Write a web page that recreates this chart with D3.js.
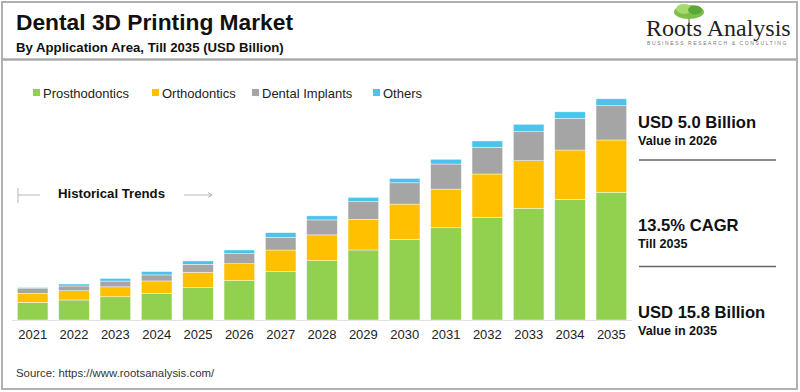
<!DOCTYPE html>
<html>
<head>
<meta charset="utf-8">
<script src="https://cdn.jsdelivr.net/npm/d3@7"></script>
<style>
  body { margin: 0; background: #fff; }
  text { font-family: "Liberation Sans", Arial, sans-serif; }
</style>
</head>
<body>
<div id="chart"></div>
<script>
const years = ["2021", "2022", "2023", "2024", "2025", "2026", "2027", "2028",
  "2029", "2030", "2031", "2032", "2033", "2034", "2035"];
const groups = ["Prosthodontics", "Orthodontics", "Dental Implants", "Others"];

const prosthodontics = [1.26, 1.43, 1.66, 1.91, 2.31, 2.82, 3.45, 4.24, 5.0, 5.76, 6.59, 7.34, 7.98, 8.62, 9.12];
const orthodontics = [0.64, 0.66, 0.71, 0.88, 1.1, 1.2, 1.55, 1.84, 2.19, 2.52, 2.76, 3.09, 3.4, 3.52, 3.74];
const dentalImplants = [0.38, 0.34, 0.41, 0.43, 0.57, 0.72, 0.91, 1.07, 1.26, 1.52, 1.79, 1.91, 2.07, 2.26, 2.45];
const others = [0.05, 0.14, 0.19, 0.24, 0.24, 0.26, 0.33, 0.29, 0.31, 0.31, 0.34, 0.45, 0.53, 0.47, 0.49];

const highlights = [
  { big: "USD 5.0 Billion", small: "Value in 2026" },
  { big: "13.5% CAGR", small: "Till 2035" },
  { big: "USD 15.8 Billion", small: "Value in 2035" },
];

const container_dimensions = (width = 800, height = 392) => {
  return { width, height };
};

const create_color = () =>
  d3.scaleOrdinal()
    .domain(groups)
    .range(["#92d050", "#ffc000", "#a5a5a5", "#4cc3ea"]);

const xAxis = () =>
  d3.scaleBand().domain(years).range([12, 632]).paddingInner(0.26).paddingOuter(0.13);

// 14px per billion, baseline at y=320
const yAxis = () => d3.scaleLinear().domain([0, 16]).range([320, 96]);

function createFrame(svg, dim) {
  svg.append("rect")
    .attr("x", 2).attr("y", 2)
    .attr("width", dim.width - 5).attr("height", dim.height - 5)
    .attr("fill", "#fff")
    .attr("stroke", "#b0b0b0")
    .attr("stroke-width", 2);

  svg.append("line")
    .attr("x1", 2).attr("x2", dim.width - 3)
    .attr("y1", 59.5).attr("y2", 59.5)
    .attr("stroke", "#aaaaaa")
    .attr("stroke-width", 2.5);

  svg.append("text")
    .attr("x", 16).attr("y", 30)
    .attr("textLength", 277)
    .attr("lengthAdjust", "spacingAndGlyphs")
    .style("font-size", "22px")
    .style("font-weight", "bold")
    .style("fill", "#111")
    .text("Dental 3D Printing Market");

  svg.append("text")
    .attr("x", 16).attr("y", 51.5)
    .style("font-size", "13.2px")
    .style("font-weight", "bold")
    .style("fill", "#111")
    .text("By Application Area, Till 2035 (USD Billion)");

  svg.append("text")
    .attr("x", 16).attr("y", 377)
    .style("font-size", "11.4px")
    .style("fill", "#333")
    .text("Source: https://www.rootsanalysis.com/");
}

function createLogo(svg) {
  const g = svg.append("g");
  // tree
  g.append("line")
    .attr("x1", 689).attr("x2", 689).attr("y1", 14).attr("y2", 24)
    .attr("stroke", "#8a9a7a").attr("stroke-width", 1.5);
  g.append("ellipse")
    .attr("cx", 689).attr("cy", 12).attr("rx", 15).attr("ry", 7)
    .attr("fill", "#7cbf4a");
  g.append("ellipse")
    .attr("cx", 684).attr("cy", 9).attr("rx", 8).attr("ry", 5)
    .attr("fill", "#a6d86a");
  g.append("ellipse")
    .attr("cx", 695).attr("cy", 10).attr("rx", 7).attr("ry", 4.5)
    .attr("fill", "#5aa83a");

  g.append("text")
    .attr("x", 646).attr("y", 36)
    .style("font-family", "'Liberation Serif', 'DejaVu Serif', serif")
    .style("font-size", "24px")
    .style("fill", "#222")
    .text("Roots Analysis");

  g.append("text")
    .attr("x", 647).attr("y", 45)
    .style("font-size", "5px")
    .style("letter-spacing", "1.6px")
    .style("fill", "#777")
    .text("BUSINESS RESEARCH & CONSULTING");
}

const createLegend = (svg, color) => {
  const xs = [33, 152, 252, 373];
  svg.selectAll("legdots")
    .data(groups)
    .enter()
    .append("rect")
    .attr("x", (d, i) => xs[i])
    .attr("y", 89)
    .attr("width", 7)
    .attr("height", 7)
    .style("fill", (d) => color(d));

  svg.selectAll("leglabels")
    .data(groups)
    .enter()
    .append("text")
    .attr("x", (d, i) => xs[i] + 10)
    .attr("y", 97.5)
    .style("font-size", "13px")
    .style("fill", "#222")
    .text((d) => d);
};

function createHistorical(svg) {
  const c = "#b5b5b5";
  svg.append("line")
    .attr("x1", 18).attr("x2", 18).attr("y1", 188).attr("y2", 203)
    .attr("stroke", c).attr("stroke-width", 1);
  svg.append("line")
    .attr("x1", 18).attr("x2", 40).attr("y1", 195).attr("y2", 195)
    .attr("stroke", c).attr("stroke-width", 1);
  svg.append("line")
    .attr("x1", 184).attr("x2", 211).attr("y1", 195).attr("y2", 195)
    .attr("stroke", c).attr("stroke-width", 1);
  svg.append("path")
    .attr("d", "M208,192.5 L212,195 L208,197.5")
    .attr("fill", "none").attr("stroke", c).attr("stroke-width", 1);
  svg.append("text")
    .attr("x", 58).attr("y", 198)
    .style("font-size", "13.2px")
    .style("font-weight", "bold")
    .style("fill", "#111")
    .text("Historical Trends");
}

function createHighlights(svg) {
  const bigY = [128, 231, 318];
  svg.selectAll("hlbig")
    .data(highlights)
    .enter()
    .append("text")
    .attr("x", 638)
    .attr("y", (d, i) => bigY[i])
    .style("font-size", "16.6px")
    .style("font-weight", "bold")
    .style("fill", "#111")
    .text((d) => d.big);

  svg.selectAll("hlsmall")
    .data(highlights)
    .enter()
    .append("text")
    .attr("x", 638)
    .attr("y", (d, i) => bigY[i] + 16.5)
    .style("font-size", "12.6px")
    .style("font-weight", "bold")
    .style("fill", "#111")
    .text((d) => d.small);

  svg.selectAll("hlsep")
    .data([160, 266.5])
    .enter()
    .append("line")
    .attr("x1", 639).attr("x2", 776)
    .attr("y1", (d) => d).attr("y2", (d) => d)
    .attr("stroke", "#666")
    .attr("stroke-width", 1.6);
}

function createPlot(divId) {
  const dim = container_dimensions();
  const svg = d3.select(divId)
    .append("svg")
    .attr("width", dim.width)
    .attr("height", dim.height);

  createFrame(svg, dim);
  createLogo(svg);

  const color = create_color();
  const x = xAxis();
  const y = yAxis();

  const table = years.map((yr, i) => ({
    year: yr,
    "Prosthodontics": prosthodontics[i],
    "Orthodontics": orthodontics[i],
    "Dental Implants": dentalImplants[i],
    "Others": others[i],
  }));
  const stack = d3.stack().keys(groups)(table);

  // baseline
  svg.append("line")
    .attr("x1", 12).attr("x2", 632)
    .attr("y1", y(0) + 0.5).attr("y2", y(0) + 0.5)
    .attr("stroke", "#e2e2e2")
    .attr("stroke-width", 1);

  svg.selectAll("layers")
    .data(stack)
    .enter()
    .append("g")
    .style("fill", (d) => color(d.key))
    .selectAll("rect")
    .data((d) => d)
    .enter()
    .append("rect")
    .attr("x", (d) => x(d.data.year))
    .attr("width", x.bandwidth())
    .attr("y", (d) => y(d[1]))
    .attr("height", (d) => y(d[0]) - y(d[1]))
    .attr("stroke", "#fff")
    .attr("stroke-width", 0.6)
    .attr("stroke-opacity", 0.7);

  // year labels
  const xg = svg.append("g")
    .attr("transform", "translate(0," + (y(0) + 1) + ")")
    .call(d3.axisBottom(x).tickSize(0).tickPadding(9));
  xg.select(".domain").remove();
  xg.selectAll(".tick text")
    .style("font-size", "13px")
    .style("font-family", "'Liberation Sans', Arial, sans-serif")
    .style("fill", "#222");

  createLegend(svg, color);
  createHistorical(svg);
  createHighlights(svg);
}

createPlot("#chart");
</script>
</body>
</html>
